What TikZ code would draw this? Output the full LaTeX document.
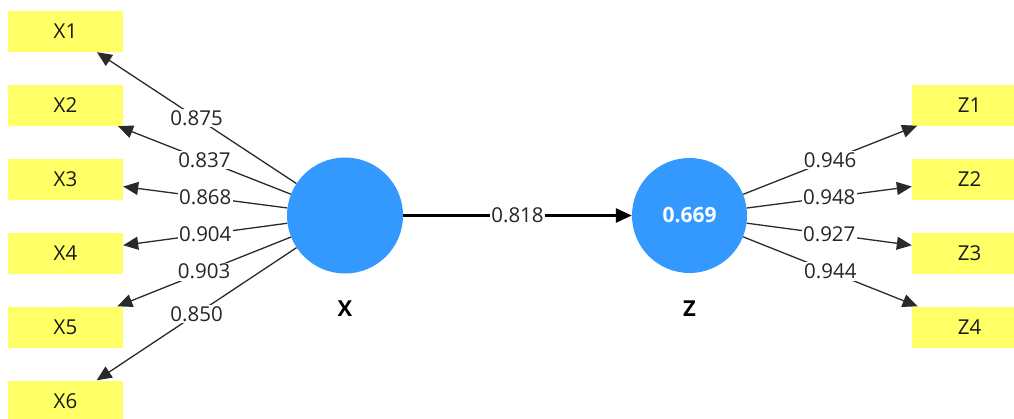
\documentclass[tikz,border=0pt]{standalone}
\usepackage{fontspec}
\setmainfont{Open Sans}
\usetikzlibrary{arrows.meta}
\definecolor{lvblue}{HTML}{3399FF}
\definecolor{indyellow}{HTML}{FFFF66}
\definecolor{linegray}{HTML}{2A2A2A}
\begin{document}
\begin{tikzpicture}[x=1pt,y=-1pt,
  font=\fontsize{20.5}{24}\selectfont,
  latent/.style={circle,fill=lvblue,inner sep=0pt,minimum size=116pt,text=white,font=\fontsize{21}{24}\selectfont\bfseries},
  indicator/.style={rectangle,fill=indyellow,inner sep=0pt,minimum width=115pt,minimum height=41pt,text=black!90},
  loading/.style={draw=linegray,line width=1.3pt,-{Triangle[length=15pt,width=13pt]}},
  path/.style={draw=black,line width=2.6pt,-{Triangle[length=16pt,width=14pt]}},
  wlabel/.style={midway,fill=white,inner sep=1.5pt,text=black!85},
  lvname/.style={font=\fontsize{22}{24}\selectfont\bfseries}]
\useasboundingbox (0,0) rectangle (1014,418);
\node[latent] (X) at (345,215.5) {};
\node[latent,minimum size=115pt] (Z) at (689.5,215.5) {0.669};
\node[lvname] (Xn) at (345,309) {X};
\node[lvname] (Zn) at (689.5,309) {Z};
\node[indicator] (X1) at (65.5,31.5) {X1};
\node[indicator] (X2) at (65.5,105.5) {X2};
\node[indicator] (X3) at (65.5,179) {X3};
\node[indicator] (X4) at (65.5,253) {X4};
\node[indicator] (X5) at (65.5,327) {X5};
\node[indicator] (X6) at (65.5,401) {X6};
\node[indicator] (Z1) at (969.5,105) {Z1};
\node[indicator] (Z2) at (969.5,179) {Z2};
\node[indicator] (Z3) at (969.5,253) {Z3};
\node[indicator] (Z4) at (969.5,327) {Z4};
\draw[loading] (X) -- (X1) node[wlabel] {0.875};
\draw[loading] (X) -- (X2) node[wlabel] {0.837};
\draw[loading] (X) -- (X3) node[wlabel] {0.868};
\draw[loading] (X) -- (X4) node[wlabel] {0.904};
\draw[loading] (X) -- (X5) node[wlabel] {0.903};
\draw[loading] (X) -- (X6) node[wlabel] {0.850};
\draw[loading] (Z) -- (Z1) node[wlabel] {0.946};
\draw[loading] (Z) -- (Z2) node[wlabel] {0.948};
\draw[loading] (Z) -- (Z3) node[wlabel] {0.927};
\draw[loading] (Z) -- (Z4) node[wlabel] {0.944};
\draw[path] (X) -- (Z) node[wlabel] {0.818};
\end{tikzpicture}
\end{document}
